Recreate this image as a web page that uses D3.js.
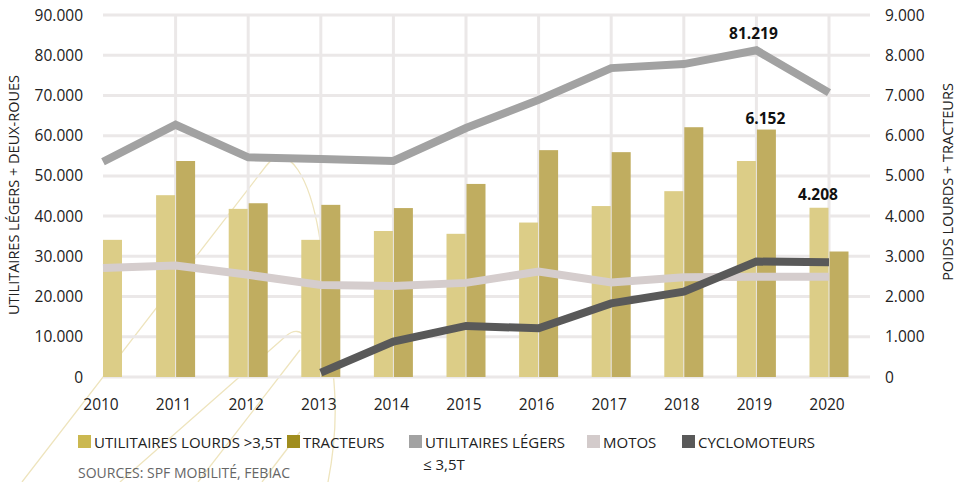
<!DOCTYPE html>
<html lang="fr">
<head>
    <meta charset="utf-8">
    <title>Véhicules utilitaires et deux-roues</title>
    <style>
        body { margin: 0; background: #fff; }
        svg { display: block; font-family: "Open Sans", sans-serif; }
    </style>
</head>
<body>
    <svg id="chart" width="962" height="482"></svg>
    <script src="https://cdn.jsdelivr.net/npm/d3@7"></script>
    <script>
        const years = [2010, 2011, 2012, 2013, 2014, 2015, 2016, 2017, 2018, 2019, 2020];

        // right axis (poids lourds + tracteurs)
        const lourds = [3410, 4520, 4180, 3410, 3630, 3560, 3840, 4250, 4620, 5370, 4208];
        const tracteurs = [null, 5370, 4320, 4280, 4200, 4800, 5640, 5590, 6210, 6152, 3120];

        // left axis (utilitaires légers + deux-roues)
        const legers = [53500, 62700, 54600, 54200, 53700, 61900, 68900, 76800, 77800, 81219, 70700];
        const motos = [27100, 27700, 25400, 22900, 22600, 23400, 26200, 23500, 24800, 24900, 24900];
        const cyclos = [null, null, null, 1100, 8800, 12700, 12100, 18300, 21200, 28700, 28500];

        const leftTicks = [0, 10000, 20000, 30000, 40000, 50000, 60000, 70000, 80000, 90000];
        const rightTicks = [0, 1000, 2000, 3000, 4000, 5000, 6000, 7000, 8000, 9000];

        const legendItems = [
            { label: ["UTILITAIRES LOURDS >3,5T"], color: "#cbb850" },
            { label: ["TRACTEURS"], color: "#a08d1e" },
            { label: ["UTILITAIRES LÉGERS", "≤ 3,5T"], color: "#a2a2a2" },
            { label: ["MOTOS"], color: "#d3cbcb" },
            { label: ["CYCLOMOTEURS"], color: "#595959" }
        ];

        const svg = d3.select("#chart");
        const fmt = v => v === 0 ? "0" : d3.format(",")(v).replace(/,/g, ".");

        const x = d3.scalePoint().domain(years).range([103, 829]);
        const yL = d3.scaleLinear().domain([0, 90000]).range([377, 15]);
        const yR = d3.scaleLinear().domain([0, 9000]).range([377, 15]);

        // decorative background swooshes
        const deco = svg.append("g")
            .attr("fill", "none")
            .attr("stroke", "#eee4bd")
            .attr("stroke-width", 1.3);
        deco.append("path").attr("d", "M22,482 L266,166 Q282,146 298,170 C318,200 324,260 328,320 C332,370 342,410 328,482");
        deco.append("path").attr("d", "M120,482 L286,336 Q298,326 306,338");
        deco.append("path").attr("d", "M198,482 L300,350");
        deco.append("path").attr("d", "M262,482 L300,432");

        // grid
        const grid = svg.append("g").attr("stroke", "#ebe8e8").attr("stroke-width", 3);
        grid.selectAll("line.h")
            .data(leftTicks)
            .join("line")
            .attr("class", "h")
            .attr("x1", 103).attr("x2", 870)
            .attr("y1", d => yL(d)).attr("y2", d => yL(d));
        grid.selectAll("line.v")
            .data(years.slice(1))
            .join("line")
            .attr("class", "v")
            .attr("x1", d => x(d)).attr("x2", d => x(d))
            .attr("y1", yL(90000)).attr("y2", yL(0));

        // bars
        const bw = 19;
        const bars = svg.append("g");
        bars.selectAll("rect.lourds")
            .data(years.map((yr, i) => ({ yr, v: lourds[i], solo: tracteurs[i] == null })))
            .join("rect")
            .attr("class", "lourds")
            .attr("x", d => d.solo ? x(d.yr) : x(d.yr) - bw - 0.5)
            .attr("width", bw)
            .attr("y", d => yR(d.v))
            .attr("height", d => yR(0) - yR(d.v))
            .attr("fill", "#dccd87");
        bars.selectAll("rect.tract")
            .data(years.map((yr, i) => ({ yr, v: tracteurs[i] })).filter(d => d.v != null))
            .join("rect")
            .attr("class", "tract")
            .attr("x", d => x(d.yr) + 0.5)
            .attr("width", bw)
            .attr("y", d => yR(d.v))
            .attr("height", d => yR(0) - yR(d.v))
            .attr("fill", "#c0ad60");

        // lines
        const line = d3.line()
            .defined(d => d.v != null)
            .x(d => x(d.yr))
            .y(d => yL(d.v));
        const series = [
            { values: legers, color: "#a2a2a2" },
            { values: motos, color: "#d5cdcd" },
            { values: cyclos, color: "#595959" }
        ];
        svg.append("g")
            .selectAll("path")
            .data(series)
            .join("path")
            .attr("d", s => line(years.map((yr, i) => ({ yr, v: s.values[i] }))))
            .attr("fill", "none")
            .attr("stroke", s => s.color)
            .attr("stroke-width", 8)
            .attr("stroke-linejoin", "miter");

        // axes labels
        svg.append("g")
            .selectAll("text")
            .data(leftTicks)
            .join("text")
            .attr("x", 83)
            .attr("y", d => yL(d) + 5.5)
            .attr("text-anchor", "end")
            .attr("font-size", 15.5)
            .attr("fill", "#222")
            .text(fmt);
        svg.append("g")
            .selectAll("text")
            .data(rightTicks)
            .join("text")
            .attr("x", 885)
            .attr("y", d => yR(d) + 5.5)
            .attr("font-size", 15.5)
            .attr("fill", "#222")
            .text(fmt);
        svg.append("g")
            .selectAll("text")
            .data(years)
            .join("text")
            .attr("x", d => x(d) - 2)
            .attr("y", 410)
            .attr("text-anchor", "middle")
            .attr("font-size", 15.5)
            .attr("fill", "#222")
            .text(d => d);

        svg.append("text")
            .attr("transform", "translate(19,195) rotate(-90)")
            .attr("text-anchor", "middle")
            .attr("font-size", 14.5)
            .attr("fill", "#222")
            .text("UTILITAIRES LÉGERS + DEUX-ROUES");
        svg.append("text")
            .attr("transform", "translate(953,182) rotate(-90)")
            .attr("text-anchor", "middle")
            .attr("font-size", 14.5)
            .attr("fill", "#222")
            .text("POIDS LOURDS + TRACTEURS");

        // value annotations
        const notes = [
            { text: "81.219", x: x(2019) - 3, y: yL(legers[9]) - 11 },
            { text: "6.152", x: x(2019) + 9, y: yR(tracteurs[9]) - 6 },
            { text: "4.208", x: x(2020) - 11, y: yR(lourds[10]) - 8 }
        ];
        svg.append("g")
            .selectAll("text")
            .data(notes)
            .join("text")
            .attr("x", d => d.x)
            .attr("y", d => d.y)
            .attr("text-anchor", "middle")
            .attr("font-size", 15.5)
            .attr("font-weight", "bold")
            .attr("fill", "#111")
            .text(d => d.text);

        // legend
        const legendX = [78, 287, 409, 587, 682];
        const lg = svg.append("g");
        legendItems.forEach((item, i) => {
            const g = lg.append("g").attr("transform", `translate(${legendX[i]},435)`);
            g.append("rect").attr("width", 13).attr("height", 13).attr("fill", item.color);
            item.label.forEach((t, j) => {
                g.append("text")
                    .attr("x", j === 0 ? 16 : 14)
                    .attr("y", 12.5 + j * 22)
                    .attr("font-size", 15)
                    .attr("fill", "#222")
                    .text(t);
            });
        });

        svg.append("text")
            .attr("x", 78)
            .attr("y", 478)
            .attr("font-size", 14)
            .attr("fill", "#666")
            .text("SOURCES: SPF MOBILITÉ, FEBIAC");
    </script>
</body>
</html>
